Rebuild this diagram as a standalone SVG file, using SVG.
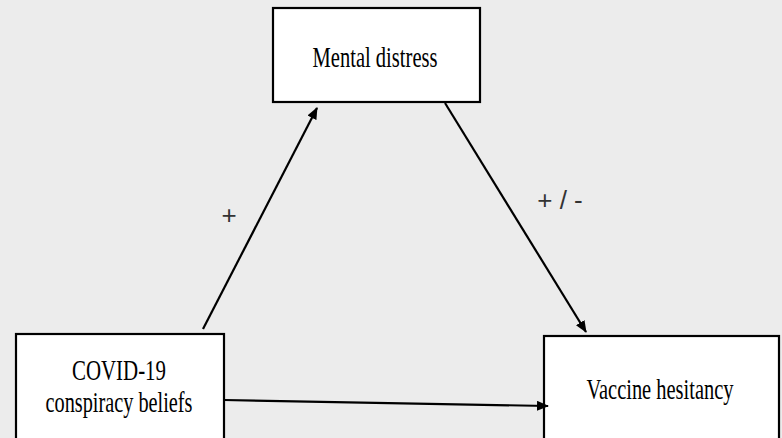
<svg xmlns="http://www.w3.org/2000/svg" width="782" height="438" viewBox="0 0 782 438">
<defs>
<marker id="ah" markerWidth="12" markerHeight="10" refX="11" refY="5" orient="auto" markerUnits="userSpaceOnUse">
<path d="M0,0 L12,5 L0,10 Z" fill="#000"/>
</marker>
<style>
.box{fill:#fff;stroke:#000;stroke-width:2.2}
.t{font-family:"Liberation Serif","Times New Roman",serif;font-size:30px;fill:#000;text-anchor:middle}
.lbl{font-family:"Liberation Sans",Arial,sans-serif;font-size:26px;font-weight:300;fill:#333;text-anchor:middle}
.c{stroke:#000;stroke-width:2.2;fill:none;marker-end:url(#ah)}
</style>
</defs>
<rect width="782" height="438" fill="#ececec"/>
<g id="mental">
<rect class="box" x="273" y="8" width="207" height="94"/>
<text class="t" x="375" y="67" textLength="125" lengthAdjust="spacingAndGlyphs">Mental distress</text>
</g>
<g id="covid">
<rect class="box" x="16" y="334" width="208" height="110"/>
<text class="t" x="119" y="380" textLength="94" lengthAdjust="spacingAndGlyphs">COVID-19</text>
<text class="t" x="119" y="412" textLength="147" lengthAdjust="spacingAndGlyphs">conspiracy beliefs</text>
</g>
<g id="vaccine">
<rect class="box" x="544" y="336" width="235" height="110"/>
<text class="t" x="660" y="399" textLength="147" lengthAdjust="spacingAndGlyphs">Vaccine hesitancy</text>
</g>
<g id="connectors">
<line class="c" x1="203" y1="329" x2="317" y2="108"/>
<line class="c" x1="445" y1="103" x2="586" y2="332"/>
<line class="c" x1="224" y1="400" x2="548" y2="406"/>
</g>
<g id="labels">
<text class="lbl" x="229" y="224">+</text>
<text class="lbl" x="560" y="209">+ / -</text>
</g>
</svg>
